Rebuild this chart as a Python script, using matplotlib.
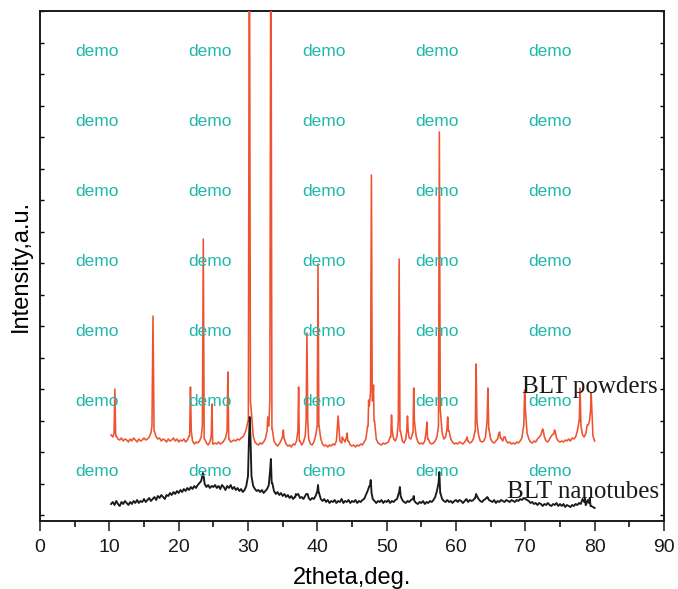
import numpy as np
import matplotlib
matplotlib.use("Agg")
import matplotlib.pyplot as plt

# ---------------- data (intensity in arbitrary units) ----------------
# sampled 2theta grid 10.25 .. 80.0 deg, step 0.25
grid_start, grid_stop, grid_step = 10.25, 80.0, 0.25

powder_base = [
    86, 84, 88, 85, 82, 81, 83, 80, 82, 81, 79, 82, 80, 83, 81, 79, 82, 80, 81, 83,
    81, 82, 84, 88, 95, 90, 84, 82, 83, 80, 82, 81, 79, 82, 80, 81, 83, 80, 82, 79,
    81, 80, 82, 79, 81, 85, 90, 80, 77, 79, 78, 80, 84, 95, 82, 78, 76, 79, 85, 77,
    78, 77, 79, 77, 78, 80, 83, 90, 82, 79, 80, 81, 80, 82, 81, 83, 84, 87, 92, 100,
    120, 108, 85, 79, 77, 76, 78, 77, 79, 82, 90, 95, 120, 92, 80, 77, 75, 77, 80, 85,
    82, 77, 75, 76, 74, 77, 76, 80, 90, 80, 76, 79, 85, 100, 82, 77, 76, 79, 85, 95,
    95, 82, 77, 75, 76, 74, 76, 75, 77, 76, 80, 95, 80, 78, 82, 79, 84, 80, 76, 75,
    76, 74, 76, 75, 77, 76, 79, 82, 95, 115, 130, 120, 100, 82, 78, 77, 76, 78, 77, 78,
    79, 84, 90, 82, 80, 85, 100, 90, 80, 78, 82, 90, 83, 82, 88, 100, 85, 79, 77, 78,
    77, 80, 90, 82, 78, 77, 78, 80, 84, 95, 110, 88, 82, 84, 92, 90, 82, 79, 77, 78,
    77, 79, 78, 77, 79, 82, 80, 78, 79, 82, 90, 100, 86, 80, 79, 80, 84, 100, 92, 82,
    79, 78, 80, 82, 88, 83, 80, 84, 80, 78, 79, 77, 78, 77, 79, 78, 80, 83, 95, 110,
    88, 82, 79, 78, 80, 79, 82, 84, 86, 90, 84, 80, 79, 82, 85, 87, 90, 83, 80, 79,
    80, 79, 81, 80, 82, 80, 83, 82, 84, 90, 100, 95, 86, 84, 88, 96, 100, 110, 85, 80,
]

powder_peak_pos = [10.8, 16.3, 21.7, 23.55, 24.8, 27.1, 30.2, 32.85, 33.3, 35.1,
                   37.3, 38.5, 40.1, 43.0, 43.6, 44.3, 47.4, 47.8, 48.1, 50.7,
                   51.8, 53.0, 53.9, 55.8, 57.6, 58.8, 61.6, 62.9, 64.6, 66.3,
                   67.0, 69.9, 72.5, 74.2, 77.9, 79.0, 79.5]
powder_peak_top = [132, 205, 134, 282, 117, 149, 640, 104, 640, 91,
                   134, 188, 257, 105, 84, 88, 121, 346, 136, 106,
                   262, 105, 133, 99, 389, 104, 84, 157, 133, 89,
                   84, 131, 92, 91, 133, 96, 128]
powder_peak_hw = [0.12, 0.15, 0.12, 0.13, 0.10, 0.12, 0.15, 0.10, 0.15, 0.10,
                  0.10, 0.12, 0.12, 0.10, 0.08, 0.10, 0.08, 0.12, 0.08, 0.10,
                  0.12, 0.10, 0.10, 0.10, 0.13, 0.10, 0.08, 0.12, 0.12, 0.10,
                  0.08, 0.12, 0.10, 0.10, 0.12, 0.08, 0.10]

tube_base = [
    17, 19, 16, 20, 17, 15, 19, 17, 20, 18, 16, 19, 17, 20, 18, 21, 18, 20, 19, 22,
    19, 21, 23, 20, 22, 24, 21, 25, 23, 26, 24, 22, 26, 25, 28, 26, 29, 27, 30, 28,
    31, 29, 32, 30, 33, 31, 34, 32, 35, 33, 36, 38, 40, 44, 37, 34, 36, 33, 35, 34,
    36, 33, 35, 32, 36, 34, 31, 35, 33, 36, 32, 34, 31, 33, 30, 32, 29, 31, 35, 45,
    80, 45, 35, 32, 30, 31, 29, 31, 28, 30, 32, 36, 50, 38, 30, 27, 29, 26, 28, 25,
    27, 24, 26, 23, 25, 22, 24, 26, 27, 23, 24, 22, 25, 27, 23, 21, 23, 22, 25, 30,
    28, 22, 20, 22, 19, 21, 18, 20, 19, 21, 18, 20, 19, 22, 18, 20, 19, 21, 18, 20,
    19, 21, 18, 20, 19, 21, 22, 26, 30, 35, 28, 22, 20, 18, 20, 19, 21, 18, 20, 19,
    21, 18, 20, 19, 21, 22, 28, 25, 21, 19, 18, 20, 19, 21, 22, 20, 18, 17, 19, 18,
    20, 17, 19, 18, 20, 19, 21, 24, 30, 38, 28, 22, 20, 19, 21, 19, 20, 18, 20, 21,
    19, 21, 20, 18, 20, 22, 19, 21, 20, 21, 23, 25, 22, 20, 19, 21, 22, 23, 21, 20,
    19, 21, 18, 20, 19, 21, 20, 19, 21, 20, 19, 21, 20, 19, 21, 20, 22, 21, 23, 22,
    21, 20, 18, 19, 17, 18, 16, 18, 17, 15, 17, 16, 18, 16, 15, 17, 16, 18, 15, 17,
    15, 17, 14, 16, 15, 14, 16, 15, 17, 16, 18, 17, 22, 19, 16, 21, 18, 15, 14, 13,
]

tube_peak_pos = [23.5, 30.25, 33.3, 36.9, 38.5, 40.1, 47.7, 51.9, 53.9, 57.6,
                 62.9, 64.5, 78.6, 79.3]
tube_peak_top = [48, 104, 62, 27, 27, 36, 41, 34, 25, 49, 27, 24, 23, 23]
tube_peak_hw = [0.12, 0.12, 0.12, 0.08, 0.10, 0.10, 0.12, 0.12, 0.10, 0.12,
                0.12, 0.12, 0.10, 0.10]

labels = ["BLT powders", "BLT nanotubes"]
x_ticks = [0, 10, 20, 30, 40, 50, 60, 70, 80, 90]


def build_series(base, pos, top, hw):
    gx = np.arange(len(base)) * grid_step + grid_start
    gy = np.asarray(base, dtype=float)
    keep = np.ones(len(gx), bool)
    for c, w in zip(pos, hw):
        keep &= ~((gx >= c - w - 0.01) & (gx <= c + w + 0.01))
    xs = list(gx[keep])
    ys = list(gy[keep])
    for c, t, w in zip(pos, top, hw):
        iL = int(np.argmin(np.abs(gx - (c - w))))
        iR = int(np.argmin(np.abs(gx - (c + w))))
        xs += [c - w, c, c + w]
        ys += [gy[iL], t, gy[iR]]
    order = np.argsort(xs)
    return np.asarray(xs)[order], np.asarray(ys)[order]


px, py = build_series(powder_base, powder_peak_pos, powder_peak_top, powder_peak_hw)
tx, ty = build_series(tube_base, tube_peak_pos, tube_peak_top, tube_peak_hw)

# ---------------- figure ----------------
W, H = 678, 589
fig = plt.figure(figsize=(W / 100, H / 100), dpi=100)
ax = fig.add_axes([40 / W, 68 / H, 624 / W, 510 / H])

ax.plot(px, py, color="#EE5230", lw=1.15, zorder=3)
ax.plot(tx, ty, color="#1a1a1a", lw=1.35, zorder=3)

ax.set_xlim(0, 90)
ax.set_ylim(0, 510)
ax.set_xticks(x_ticks)
ax.set_xticks(np.arange(5, 90, 10), minor=True)
ax.set_yticks(np.arange(6, 511, 31.5))
ax.set_yticklabels([])

for s in ax.spines.values():
    s.set_linewidth(1.4)
    s.set_color("#1a1a1a")

ax.tick_params(axis="x", which="major", direction="out", length=7, width=1.1,
               labelsize=14, pad=6, colors="#1a1a1a")
ax.tick_params(axis="x", which="minor", direction="out", length=4, width=1.1)
ax.tick_params(axis="y", which="major", direction="in", length=3, width=1.0,
               left=True, right=True)
for lab in ax.get_xticklabels():
    lab.set_fontfamily("Liberation Sans")

ax.set_xlabel("2theta,deg.", fontsize=17, family="Liberation Sans", labelpad=8)
ax.set_ylabel("Intensity,a.u.", fontsize=17, family="Liberation Sans", labelpad=2)

ax.text(69.5, 128, labels[0], fontsize=18, family="Liberation Serif",
        va="baseline", ha="left", color="#1a1a1a", zorder=4)
ax.text(67.4, 23, labels[1], fontsize=18, family="Liberation Serif",
        va="baseline", ha="left", color="#1a1a1a", zorder=4)

# watermark
for xp in [97, 210, 324, 437, 550]:
    for yp in [52, 122, 192, 262, 332, 402, 472]:
        fig.text(xp / W, 1 - yp / H, "demo", fontsize=12.5, family="Liberation Sans",
                 color="#20B8AA", ha="center", va="center", zorder=10)

fig.savefig("out.png", dpi=100)
